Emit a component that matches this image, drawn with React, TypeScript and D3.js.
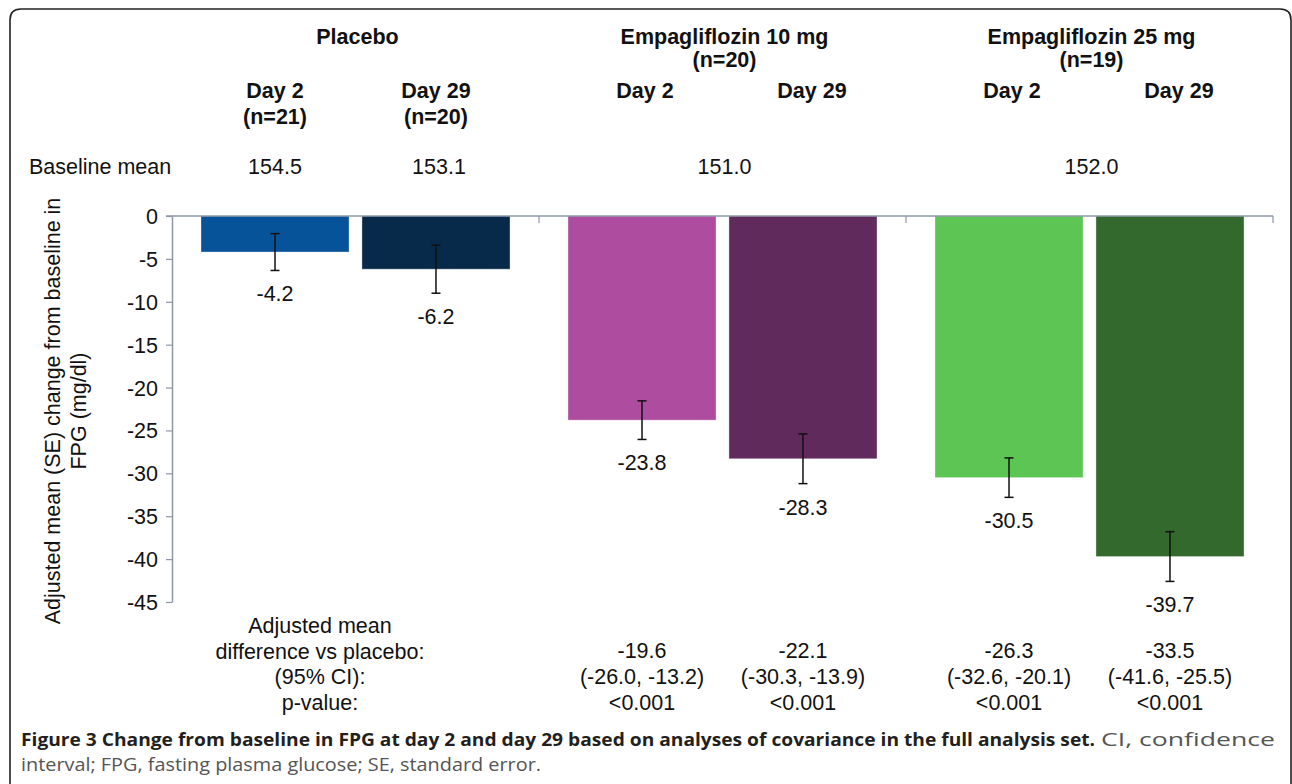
import React, { useEffect, useRef } from "react";
import * as d3 from "d3";

const groups = ["Placebo", "Empagliflozin 10 mg", "Empagliflozin 25 mg"];
const groupN = ["", "(n=20)", "(n=19)"];
const days = ["Day 2", "Day 29"];
const placeboDayN = ["(n=21)", "(n=20)"];
const means = [-4.2, -6.2, -23.8, -28.3, -30.5, -39.7];
const se = [2.15, 2.8, 2.25, 2.9, 2.3, 2.9];
const colors = ["#07539a", "#072a4b", "#ae4da0", "#612a5c", "#5dc553", "#33692c"];
const placeboBaseline = ["154.5", "153.1"];
const groupBaseline = ["", "151.0", "152.0"];
const diffs = ["-19.6", "-22.1", "-26.3", "-33.5"];
const cis = ["(-26.0, -13.2)", "(-30.3, -13.9)", "(-32.6, -20.1)", "(-41.6, -25.5)"];
const pvals = ["<0.001", "<0.001", "<0.001", "<0.001"];
const footLabels = ["Adjusted mean", "difference vs placebo:", "(95% CI):", "p-value:"];
const yTicks = [0, -5, -10, -15, -20, -25, -30, -35, -40, -45];

const W = 1292;
const H = 784;
const FONT = "'Liberation Sans', Arial, Helvetica, sans-serif";
const FS = 21.5;
const AXIS = "#8c96a8";

export default function App() {
  const yAxisRef = useRef<SVGGElement>(null);

  const x0 = d3.scaleBand().domain(groups).range([172, 1273]).padding(0);
  const x1 = d3
    .scaleBand()
    .domain(days)
    .range([0, x0.bandwidth()])
    .paddingInner(0.08)
    .paddingOuter(0.18);
  const y = d3.scaleLinear().domain([-45, 0]).range([602, 216]);

  const bars = means.map((v, i) => {
    const g = groups[Math.floor(i / 2)];
    const d = days[i % 2];
    const x = (x0(g) as number) + (x1(d) as number);
    return { v, i, x, cx: x + x1.bandwidth() / 2, gi: Math.floor(i / 2), di: i % 2 };
  });

  useEffect(() => {
    const g = d3.select(yAxisRef.current);
    g.call(
      d3
        .axisLeft(y)
        .tickValues(yTicks)
        .tickFormat((d) => String(d))
        .tickSize(6)
        .tickSizeOuter(0)
        .tickPadding(8)
    );
    g.select(".domain").attr("stroke", AXIS).attr("stroke-width", 1.5);
    g.selectAll(".tick line").attr("stroke", AXIS).attr("stroke-width", 1.2);
    g.selectAll(".tick text")
      .attr("font-family", FONT)
      .attr("font-size", FS)
      .attr("fill", "#111")
      .attr("dy", "0.35em");
  }, []);

  const gc = (g: string) => (x0(g) as number) + x0.bandwidth() / 2;

  return (
    <svg
      width={W}
      height={H}
      style={{ position: "absolute", left: 0, top: 0, background: "#fff" }}
      fontFamily={FONT}
    >
      {/* frame */}
      <path
        d={`M10,${H + 5} L10,20 Q10,9 21,9 L1280,9 Q1291,9 1291,20 L1291,${H + 5}`}
        fill="none"
        stroke="#222"
        strokeWidth={1.6}
      />

      {/* group headers */}
      {groups.map((g, gi) => (
        <g key={g} fontWeight="bold" fontSize={FS} textAnchor="middle" fill="#111">
          <text x={gc(g) + (gi === 0 ? -168 + 170 : 2)} y={44}>{g}</text>
          {groupN[gi] && <text x={gc(g) + 2} y={67}>{groupN[gi]}</text>}
        </g>
      ))}
      {bars.map((b) => (
        <g key={"d" + b.i} fontWeight="bold" fontSize={FS} textAnchor="middle" fill="#111">
          <text x={b.cx + (b.gi > 0 ? 3 + b.di * 6 : 0)} y={98}>{days[b.di]}</text>
          {b.gi === 0 && <text x={b.cx} y={124}>{placeboDayN[b.di]}</text>}
        </g>
      ))}

      {/* baseline mean row */}
      <text x={29} y={174} fontSize={FS} fill="#111">Baseline mean</text>
      {bars
        .filter((b) => b.gi === 0)
        .map((b) => (
          <text key={"bm" + b.i} x={b.cx + b.di * 3} y={174} fontSize={FS} textAnchor="middle" fill="#111">
            {placeboBaseline[b.di]}
          </text>
        ))}
      {groups.map((g, gi) =>
        groupBaseline[gi] ? (
          <text key={"gb" + g} x={gc(g) + 2} y={174} fontSize={FS} textAnchor="middle" fill="#111">
            {groupBaseline[gi]}
          </text>
        ) : null
      )}

      {/* bars */}
      {bars.map((b) => (
        <rect
          key={"r" + b.i}
          x={b.x}
          y={y(0)}
          width={x1.bandwidth()}
          height={y(b.v) - y(0)}
          fill={colors[b.i]}
          stroke="#fff"
          strokeOpacity={0.35}
          strokeWidth={1}
        />
      ))}

      {/* error bars */}
      {bars.map((b) => {
        const t = y(b.v + se[b.i]);
        const bt = y(b.v - se[b.i]);
        return (
          <g key={"e" + b.i} stroke="#111" strokeWidth={1.5}>
            <line x1={b.cx} x2={b.cx} y1={t} y2={bt} />
            <line x1={b.cx - 4.5} x2={b.cx + 4.5} y1={t} y2={t} />
            <line x1={b.cx - 4.5} x2={b.cx + 4.5} y1={bt} y2={bt} />
          </g>
        );
      })}

      {/* value labels */}
      {bars.map((b) => (
        <text
          key={"v" + b.i}
          x={b.cx}
          y={y(b.v - se[b.i]) + 31}
          fontSize={FS}
          textAnchor="middle"
          fill="#111"
        >
          {b.v.toFixed(1)}
        </text>
      ))}

      {/* x axis */}
      <line x1={166} x2={x0.range()[1]} y1={y(0)} y2={y(0)} stroke={AXIS} strokeWidth={1.5} />
      {groups.map((g) => {
        const xx = (x0(g) as number) + x0.bandwidth();
        return <line key={"xt" + g} x1={xx} x2={xx} y1={y(0)} y2={y(0) + 7} stroke={AXIS} strokeWidth={1.2} />;
      })}

      {/* y axis */}
      <g ref={yAxisRef} transform={`translate(172,0)`} />
      <g transform={`translate(0,${(y(0) + y(-45)) / 2 + 2}) rotate(-90)`} fontSize={FS} textAnchor="middle" fill="#111">
        <text x={0} y={60}>Adjusted mean (SE) change from baseline in</text>
        <text x={0} y={86}>FPG (mg/dl)</text>
      </g>

      {/* footer table */}
      {footLabels.map((t, k) => (
        <text key={"fl" + k} x={320} y={633 + k * 25.7} fontSize={FS} textAnchor="middle" fill="#111">
          {t}
        </text>
      ))}
      {bars
        .filter((b) => b.gi > 0)
        .map((b, k) => (
          <g key={"f" + b.i} fontSize={FS} textAnchor="middle" fill="#111">
            <text x={b.cx} y={658}>{diffs[k]}</text>
            <text x={b.cx} y={684}>{cis[k]}</text>
            <text x={b.cx} y={710}>{pvals[k]}</text>
          </g>
        ))}

      {/* caption */}
      <text
        x={21}
        y={746}
        fontFamily="'Open Sans', sans-serif"
        fontWeight="bold"
        fontSize={18}
        fill="#231f20"
        textLength={1074}
        lengthAdjust="spacingAndGlyphs"
      >
        Figure 3 Change from baseline in FPG at day 2 and day 29 based on analyses of covariance in the full analysis set.
      </text>
      <text
        x={1101}
        y={746}
        fontFamily="'Open Sans', sans-serif"
        fontSize={18}
        fill="#555"
        textLength={174}
        lengthAdjust="spacingAndGlyphs"
      >
        CI, confidence
      </text>
      <text
        x={21}
        y={771}
        fontFamily="'Open Sans', sans-serif"
        fontSize={18}
        fill="#555"
        textLength={520}
        lengthAdjust="spacingAndGlyphs"
      >
        interval; FPG, fasting plasma glucose; SE, standard error.
      </text>
    </svg>
  );
}
